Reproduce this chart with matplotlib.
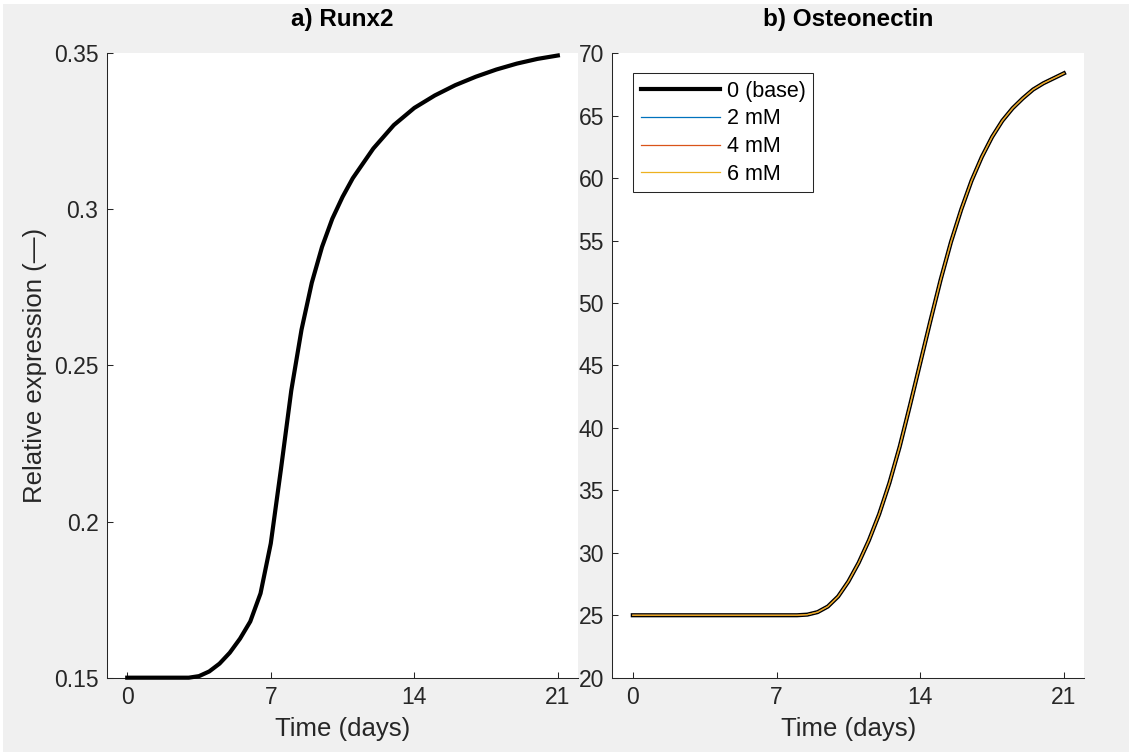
import matplotlib

matplotlib.use("Agg")
import matplotlib.pyplot as plt
from matplotlib.patches import Rectangle

plt.rcParams["font.family"] = ["Liberation Sans", "DejaVu Sans"]

# panel a) Runx2, sampled every half day
runx2_days = [0, 1, 2, 3, 3.5, 4, 4.5, 5, 5.5, 6, 6.5, 7, 7.5, 8, 8.5, 9,
              9.5, 10, 10.5, 11, 12, 13, 14, 15, 16, 17, 18, 19, 20, 21]
runx2_base = [0.150, 0.150, 0.150, 0.150, 0.1505, 0.152, 0.1545, 0.158,
              0.1625, 0.168, 0.177, 0.193, 0.217, 0.242, 0.2615, 0.2765,
              0.288, 0.297, 0.304, 0.310, 0.3195, 0.327, 0.3325, 0.3365,
              0.3398, 0.3425, 0.3448, 0.3467, 0.3482, 0.3493]

# panel b) Osteonectin, all doses overlap the base curve
osteo_days = [0, 1, 2, 3, 4, 5, 6, 7, 8, 8.5, 9, 9.5, 10, 10.5, 11, 11.5, 12,
              12.5, 13, 13.5, 14, 14.5, 15, 15.5, 16, 16.5, 17, 17.5, 18,
              18.5, 19, 19.5, 20, 20.5, 21]
osteo_base = [25.0, 25.0, 25.0, 25.0, 25.0, 25.0, 25.0, 25.0, 25.0, 25.05,
              25.25, 25.7, 26.5, 27.7, 29.2, 31.0, 33.1, 35.6, 38.5, 41.8,
              45.2, 48.6, 51.9, 54.9, 57.5, 59.8, 61.7, 63.3, 64.6, 65.6,
              66.4, 67.1, 67.6, 68.0, 68.4]
osteo_2mM = list(osteo_base)
osteo_4mM = list(osteo_base)
osteo_6mM = list(osteo_base)

dose_labels = ["0 (base)", "2 mM", "4 mM", "6 mM"]
dose_colors = ["#0072BD", "#D95319", "#EDB120"]

x_ticks = [0, 7, 14, 21]
runx2_yticks = [0.15, 0.2, 0.25, 0.3, 0.35]
osteo_yticks = list(range(20, 71, 5))

axis_col = "#262626"
bg = "#f0f0f0"

fig = plt.figure(figsize=(11.32, 7.55), dpi=100, facecolor="white")
fig.patches.append(Rectangle((3 / 1132, 3 / 755), 1 - 6 / 1132, 1 - 7 / 755,
                             transform=fig.transFigure, facecolor=bg,
                             edgecolor="none", zorder=-10))

ax1 = fig.add_axes([0.0943, 0.1024, 0.4166, 0.8270])
ax2 = fig.add_axes([0.5409, 0.1024, 0.4171, 0.8270])


def style_axes(ax):
    ax.set_facecolor("white")
    for side in ("top", "right"):
        ax.spines[side].set_visible(False)
    for side in ("left", "bottom"):
        ax.spines[side].set_color(axis_col)
        ax.spines[side].set_linewidth(0.75)
    ax.tick_params(direction="in", length=4.5, width=0.75, colors=axis_col,
                   labelsize=16.5, pad=6)
    ax.set_xlim(-1, 22)
    ax.set_xticks(x_ticks)
    ax.set_xlabel("Time (days)", fontsize=18.5, color=axis_col, labelpad=6)


style_axes(ax1)
ax1.plot(runx2_days, runx2_base, color="black", lw=3, clip_on=False, zorder=5)
ax1.set_ylim(0.15, 0.35)
ax1.set_yticks(runx2_yticks)
ax1.set_yticklabels(["0.15", "0.2", "0.25", "0.3", "0.35"])
ax1.set_ylabel("Relative expression (\u2014)", fontsize=18.5, color=axis_col,
               labelpad=5)
ax1.set_title("a) Runx2", fontsize=17.5, fontweight="bold", pad=20)

style_axes(ax2)
ax2.plot(osteo_days, osteo_base, color="black", lw=3, label=dose_labels[0])
for vals, col, lab in zip([osteo_2mM, osteo_4mM, osteo_6mM], dose_colors,
                          dose_labels[1:]):
    ax2.plot(osteo_days, vals, color=col, lw=0.9, label=lab)
ax2.set_ylim(20, 70)
ax2.set_yticks(osteo_yticks)
ax2.set_title("b) Osteonectin", fontsize=17.5, fontweight="bold", pad=20)

leg = ax2.legend(loc="upper left", bbox_to_anchor=(0.0445, 0.968),
                 borderaxespad=0, fontsize=15.5, handlelength=3.7,
                 handletextpad=0.3, labelspacing=0.31, borderpad=0.35,
                 fancybox=False, framealpha=1)
leg.get_frame().set_edgecolor(axis_col)
leg.get_frame().set_linewidth(0.75)

fig.savefig("out.png", dpi=100, facecolor=fig.get_facecolor())
